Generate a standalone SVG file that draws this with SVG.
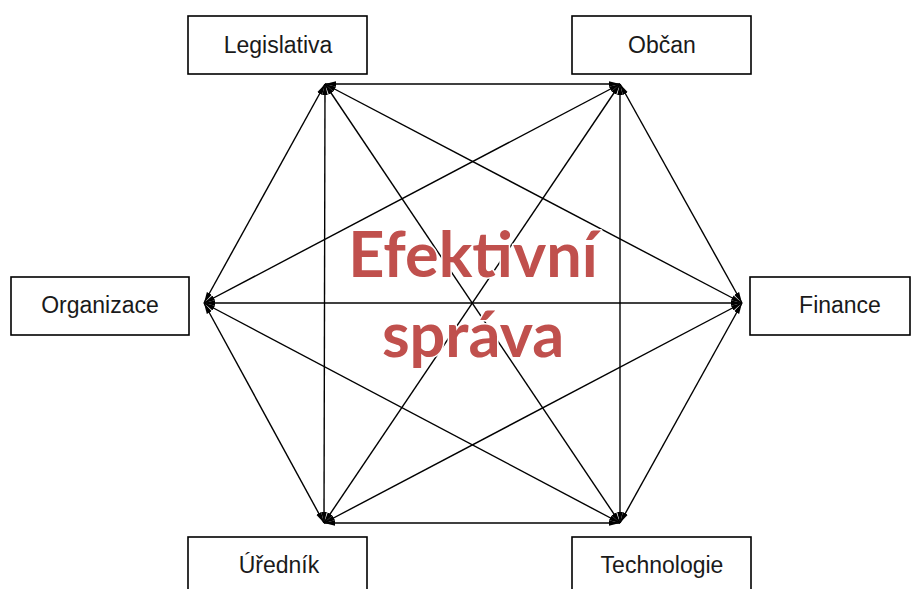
<svg xmlns="http://www.w3.org/2000/svg" width="913" height="589" viewBox="0 0 913 589">
  <style>
    .box { fill: #ffffff; stroke: #000000; stroke-width: 1.6; }
    .label { font-family: "Liberation Sans", Arial, sans-serif; font-size: 23px; fill: #1a1a1a; text-anchor: middle; }
    .edge { stroke: #000000; stroke-width: 1.4; fill: none; marker-start: url(#arrow); marker-end: url(#arrow); }
    .title { font-family: Lato, "Open Sans", sans-serif; font-weight: bold; font-size: 63px; fill: #C0504D; text-anchor: middle; stroke: #ffffff; stroke-width: 3; paint-order: stroke; stroke-linejoin: round; }
  </style>
  <defs>
    <marker id="arrow" markerUnits="userSpaceOnUse" markerWidth="12" markerHeight="10" viewBox="0 0 12 10" refX="11" refY="5" orient="auto-start-reverse">
      <path d="M0,2.2 L11,5 L0,7.8 Z" fill="#000000"/>
    </marker>
  </defs>
  <rect width="913" height="589" fill="#ffffff"/>

  <!-- all pairwise links between the six hexagon corners -->
  <g id="connectors">
    <line class="edge" x1="325" y1="84" x2="620" y2="84"/>
    <line class="edge" x1="325" y1="84" x2="742" y2="303"/>
    <line class="edge" x1="325" y1="84" x2="620" y2="523"/>
    <line class="edge" x1="325" y1="84" x2="324" y2="523"/>
    <line class="edge" x1="325" y1="84" x2="204" y2="303"/>
    <line class="edge" x1="620" y1="84" x2="742" y2="303"/>
    <line class="edge" x1="620" y1="84" x2="620" y2="523"/>
    <line class="edge" x1="620" y1="84" x2="324" y2="523"/>
    <line class="edge" x1="620" y1="84" x2="204" y2="303"/>
    <line class="edge" x1="742" y1="303" x2="620" y2="523"/>
    <line class="edge" x1="742" y1="303" x2="324" y2="523"/>
    <line class="edge" x1="742" y1="303" x2="204" y2="303"/>
    <line class="edge" x1="620" y1="523" x2="324" y2="523"/>
    <line class="edge" x1="620" y1="523" x2="204" y2="303"/>
    <line class="edge" x1="324" y1="523" x2="204" y2="303"/>
  </g>

  <g id="title">
    <text class="title" x="473" y="277">Efektivní</text>
    <text class="title" x="473" y="357">správa</text>
  </g>

  <g id="legislativa">
    <rect class="box" x="188" y="16" width="179" height="58"/>
    <text class="label" x="278" y="53">Legislativa</text>
  </g>
  <g id="obcan">
    <rect class="box" x="572" y="16" width="179" height="58"/>
    <text class="label" x="662" y="53">Občan</text>
  </g>
  <g id="organizace">
    <rect class="box" x="11" y="277" width="178" height="58"/>
    <text class="label" x="100" y="313">Organizace</text>
  </g>
  <g id="finance">
    <rect class="box" x="750" y="277" width="160" height="58"/>
    <text class="label" x="840" y="313">Finance</text>
  </g>
  <g id="urednik">
    <rect class="box" x="188" y="537" width="179" height="70"/>
    <text class="label" x="279" y="573">Úředník</text>
  </g>
  <g id="technologie">
    <rect class="box" x="572" y="537" width="179" height="70"/>
    <text class="label" x="662" y="573">Technologie</text>
  </g>
</svg>
